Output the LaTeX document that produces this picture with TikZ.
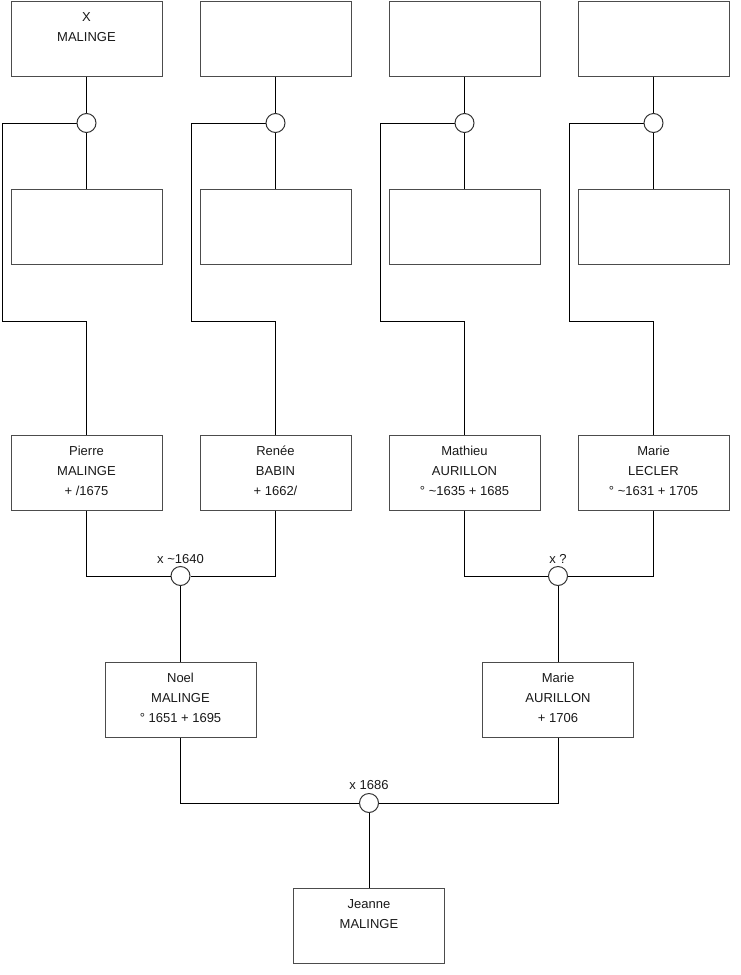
\documentclass[tikz,border=0pt]{standalone}
\usepackage{fontspec}
\setmainfont{Liberation Sans}
\begin{document}
\begin{tikzpicture}[x=1pt,y=-1pt,
  pbox/.style={draw=black!70,line width=1pt,fill=white,minimum width=151pt,minimum height=75pt,inner sep=0pt},
  ptext/.style={align=center,inner sep=0pt,anchor=north,font=\fontsize{13}{20}\selectfont,text=black!90},
  knot/.style={circle,draw=black!80,line width=1pt,fill=white,minimum size=19pt,inner sep=0pt},
  wire/.style={draw=black,line width=1pt},
  mlabel/.style={anchor=base,inner sep=0pt,font=\fontsize{13}{16}\selectfont,text=black!90}]
\useasboundingbox (0,0) rectangle (740,975);
\newcommand\person[3]{%
  \node[pbox] (#1) at (#2) {};
  \node[ptext] (#1t) at ([yshift=-10.5pt]#1.north) {\rule{0pt}{10pt}#3};}
% row 1
\person{a1}{86.5,38.5}{X\\MALINGE}
\person{a2}{275.5,38.5}{}
\person{a3}{464.5,38.5}{}
\person{a4}{653.5,38.5}{}
% row 2
\person{b1}{86.5,227}{}
\person{b2}{275.5,227}{}
\person{b3}{464.5,227}{}
\person{b4}{653.5,227}{}
% row 3
\person{p1}{86.5,472.5}{Pierre\\MALINGE\\+ /1675}
\person{p2}{275.5,472.5}{Renée\\BABIN\\+ 1662/}
\person{p3}{464.5,472.5}{Mathieu\\AURILLON\\° \textasciitilde1635 + 1685}
\person{p4}{653.5,472.5}{Marie\\LECLER\\° \textasciitilde1631 + 1705}
% row 4
\person{noel}{180.5,699.5}{Noel\\MALINGE\\° 1651 + 1695}
\person{marie}{558,699.5}{Marie\\AURILLON\\+ 1706}
% row 5
\person{jeanne}{369,926}{Jeanne\\MALINGE}
% knots
\coordinate (k1) at (2,321);
\coordinate (k2) at (191,321);
\coordinate (k3) at (380,321);
\coordinate (k4) at (569,321);
\foreach \i/\xx in {1/86.5,2/275.5,3/464.5,4/653.5}{
  \draw[wire] (a\i.south) -- (\xx,113.5);
  \draw[wire] (\xx,132.5) -- (b\i.north);
  \draw[wire] (\xx-9.5,123) -| (k\i) -| (p\i.north);
  \node[knot] (c\i) at (\xx,123) {};
}
% couples
\node[knot] (u1) at (180.5,576) {};
\node[knot] (u2) at (558,576) {};
\node[knot] (u3) at (369,803) {};
\draw[wire] (p1.south) |- (u1.west);
\draw[wire] (p2.south) |- (u1.east);
\draw[wire] (u1.south) -- (noel.north);
\draw[wire] (p3.south) |- (u2.west);
\draw[wire] (p4.south) |- (u2.east);
\draw[wire] (u2.south) -- (marie.north);
\draw[wire] (noel.south) |- (u3.west);
\draw[wire] (marie.south) |- (u3.east);
\draw[wire] (u3.south) -- (jeanne.north);
\node[mlabel] (l1) at ([yshift=3pt]u1.north) {x \textasciitilde1640};
\node[mlabel] (l2) at ([yshift=3pt]u2.north) {x ?};
\node[mlabel] (l3) at ([yshift=3.5pt]u3.north) {x 1686};
\end{tikzpicture}
\end{document}
